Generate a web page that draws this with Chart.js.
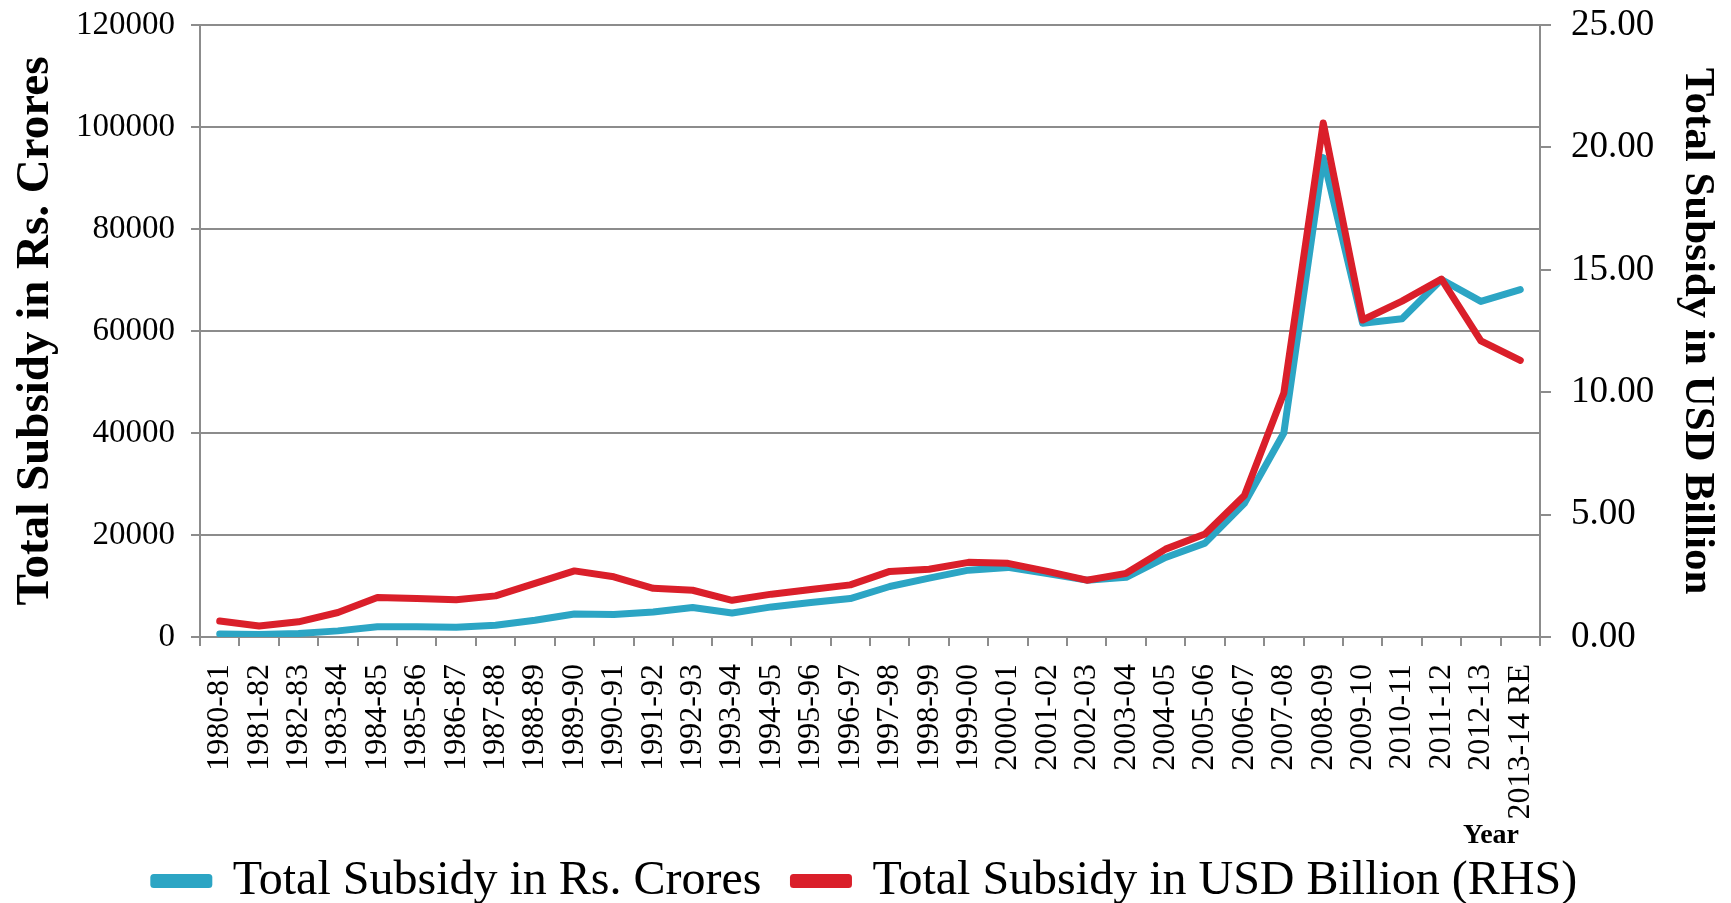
<!DOCTYPE html>
<html>
<head>
<meta charset="utf-8">
<script src="https://cdn.jsdelivr.net/npm/chart.js@4.4.1/dist/chart.umd.min.js"></script>
<style>
  html, body { margin: 0; padding: 0; background: #fff; }
  #wrap { width: 1731px; height: 903px; position: relative; }
</style>
</head>
<body>
<div id="wrap"><canvas id="subsidyChart"></canvas></div>
<script>
const years = ['1980-81', '1981-82', '1982-83', '1983-84', '1984-85', '1985-86', '1986-87',
    '1987-88', '1988-89', '1989-90', '1990-91', '1991-92', '1992-93', '1993-94', '1994-95',
    '1995-96', '1996-97', '1997-98', '1998-99', '1999-00', '2000-01', '2001-02', '2002-03',
    '2003-04', '2004-05', '2005-06', '2006-07', '2007-08', '2008-09', '2009-10', '2010-11',
    '2011-12', '2012-13', '2013-14 RE'];

// Rs. crores (left axis)
const subsidyRs = [590, 500, 700, 1200, 2000, 2000, 1900, 2300, 3300, 4500,
    4400, 4900, 5800, 4700, 5900, 6760, 7540, 9900, 11550, 13100,
    13650, 12460, 11150, 11700, 15600, 18400, 26240, 40000, 94000, 61500,
    62400, 70100, 65800, 68100];

// USD billion (right axis)
const subsidyUsd = [0.65, 0.45, 0.62, 1.00, 1.61, 1.57, 1.52, 1.68, 2.19, 2.70,
    2.46, 1.99, 1.91, 1.50, 1.75, 1.94, 2.13, 2.68, 2.77, 3.05,
    3.01, 2.68, 2.32, 2.60, 3.59, 4.21, 5.78, 9.97, 21.0, 12.95,
    13.72, 14.62, 12.1, 11.3];

const FONT = '"Liberation Serif", "Times New Roman", serif';
const GRID = '#8c8c8c';

const ctx = document.getElementById('subsidyChart').getContext('2d');

// fixed box sizes so the plot area lands where it does in the original
function fixWidth(w) {
    return scale => {
        scale.width = w;
        scale.paddingTop = 0;
        scale.paddingBottom = 0;
    };
}

new Chart(ctx, {
    type: 'line',
    data: {
        labels: years,
        datasets: [{
            label: 'Total Subsidy in Rs. Crores',
            data: subsidyRs,
            yAxisID: 'y',
            borderColor: '#2ca5c4',
            backgroundColor: '#2ca5c4',
            borderWidth: 7,
            pointRadius: 0,
            tension: 0,
            borderCapStyle: 'round',
            borderJoinStyle: 'round',
            order: 1
        }, {
            label: 'Total Subsidy in USD Billion (RHS)',
            data: subsidyUsd,
            yAxisID: 'y1',
            borderColor: '#da1f2a',
            backgroundColor: '#da1f2a',
            borderWidth: 7,
            pointRadius: 0,
            tension: 0,
            borderCapStyle: 'round',
            borderJoinStyle: 'round',
            order: 0
        }]
    },
    options: {
        responsive: true,
        maintainAspectRatio: false,
        animation: false,
        layout: {
            padding: { left: 8, right: 8, top: 25, bottom: -12 }
        },
        plugins: {
            tooltip: { enabled: false },
            legend: {
                position: 'bottom',
                labels: {
                    font: { family: FONT, size: 48 },
                    color: '#000',
                    boxWidth: 55,
                    boxHeight: 7,
                    padding: 32,
                    sort: (a, b) => a.datasetIndex - b.datasetIndex
                }
            }
        },
        scales: {
            x: {
                offset: true,
                grid: {
                    offset: true,
                    drawOnChartArea: false,
                    drawTicks: true,
                    tickLength: 9,
                    color: GRID,
                    lineWidth: 2
                },
                border: { color: GRID, width: 2 },
                ticks: {
                    autoSkip: false,
                    maxRotation: 90,
                    minRotation: 90,
                    padding: 18,
                    color: '#000',
                    font: { family: FONT, size: 32 }
                },
                title: {
                    display: true,
                    text: 'Year\u00a0\u00a0\u00a0',
                    align: 'end',
                    color: '#000',
                    padding: { top: 0, bottom: -28 },
                    font: { family: FONT, size: 28, weight: 'bold' }
                },
                afterFit: scale => { scale.height = 188; }
            },
            y: {
                position: 'left',
                min: 0,
                max: 120000,
                ticks: {
                    stepSize: 20000,
                    padding: 16,
                    color: '#000',
                    font: { family: FONT, size: 33 },
                    callback: v => String(v)
                },
                grid: {
                    color: GRID,
                    lineWidth: 2,
                    tickLength: 9
                },
                border: { color: GRID, width: 2 },
                title: {
                    display: true,
                    text: 'Total Subsidy in Rs. Crores',
                    color: '#000',
                    padding: 0,
                    font: { family: FONT, size: 47, weight: 'bold' }
                },
                afterFit: fixWidth(192)
            },
            y1: {
                position: 'right',
                min: 0,
                max: 25,
                ticks: {
                    stepSize: 5,
                    padding: 20,
                    color: '#000',
                    font: { family: FONT, size: 37 },
                    callback: v => Number(v).toFixed(2)
                },
                grid: {
                    drawOnChartArea: false,
                    color: GRID,
                    lineWidth: 2,
                    tickLength: 11
                },
                border: { color: GRID, width: 2 },
                title: {
                    display: true,
                    text: 'Total Subsidy in USD Billion',
                    color: '#000',
                    padding: 0,
                    font: { family: FONT, size: 43, weight: 'bold' }
                },
                afterFit: fixWidth(183)
            }
        }
    }
});
</script>
</body>
</html>
